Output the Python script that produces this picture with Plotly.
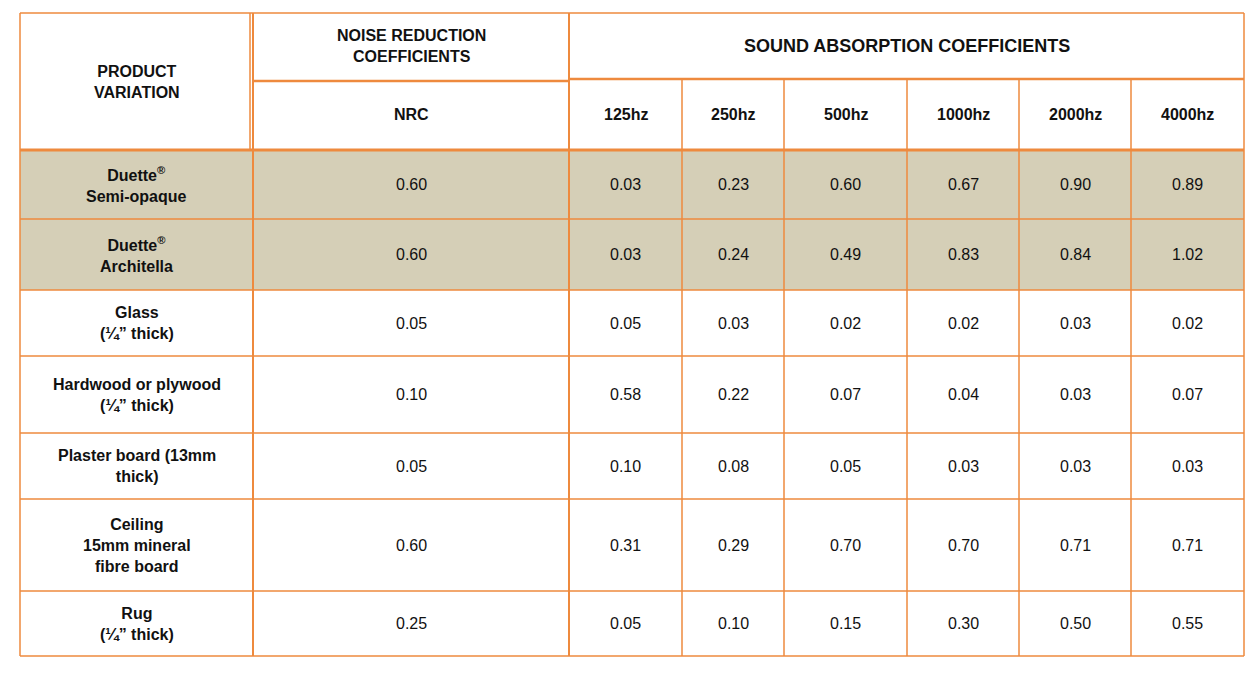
import plotly.graph_objects as go

products = [
    "Duette<sup>®</sup><br>Semi-opaque",
    "Duette<sup>®</sup><br>Architella",
    "Glass<br>(¼” thick)",
    "Hardwood or plywood<br>(¼” thick)",
    "Plaster board (13mm<br>thick)",
    "Ceiling<br>15mm mineral<br>fibre board",
    "Rug<br>(¼” thick)",
]
nrc = ["0.60", "0.60", "0.05", "0.10", "0.05", "0.60", "0.25"]
freqs = ["125hz", "250hz", "500hz", "1000hz", "2000hz", "4000hz"]
sac = [
    ["0.03", "0.23", "0.60", "0.67", "0.90", "0.89"],
    ["0.03", "0.24", "0.49", "0.83", "0.84", "1.02"],
    ["0.05", "0.03", "0.02", "0.02", "0.03", "0.02"],
    ["0.58", "0.22", "0.07", "0.04", "0.03", "0.07"],
    ["0.10", "0.08", "0.05", "0.03", "0.03", "0.03"],
    ["0.31", "0.29", "0.70", "0.70", "0.71", "0.71"],
    ["0.05", "0.10", "0.15", "0.30", "0.50", "0.55"],
]
shaded = [True, True, False, False, False, False, False]

# layout in page pixels
col_x = [20, 253, 569, 682, 784, 907, 1019, 1131, 1244]
row_y = [150, 219, 290, 356, 433, 499, 591, 656]
top, mid = 13, 79
ORANGE = "#EE8A3E"
BEIGE = "#D5CFB7"
FONT = "Liberation Sans"
PAGE_MARGIN = 8  # default body margin of the page

shapes, ann = [], []


def line(x0, y0, x1, y1, w=1.5):
    shapes.append(dict(type="line", x0=x0, y0=y0, x1=x1, y1=y1,
                       line=dict(color=ORANGE, width=w), layer="above"))


def text(x, y, s, bold=False, size=16):
    ann.append(dict(x=x, y=y, text=f"<b>{s}</b>" if bold else s, showarrow=False,
                    font=dict(family=FONT, size=size, color="#111111"),
                    xanchor="center", yanchor="middle"))


for i, sh in enumerate(shaded):
    if sh:
        shapes.append(dict(type="rect", x0=col_x[0], x1=col_x[-1], y0=row_y[i], y1=row_y[i + 1],
                           fillcolor=BEIGE, line=dict(width=0), layer="below"))

# outer and header borders
line(col_x[0], top, col_x[-1], top)
line(col_x[0], top, col_x[0], row_y[-1])
line(col_x[-1], top, col_x[-1], row_y[-1])
line(col_x[2], mid, col_x[-1], mid, 2.5)
line(col_x[1], mid + 2, col_x[2], mid + 2, 2.5)
line(col_x[0], row_y[0], col_x[-1], row_y[0], 3)
line(col_x[1], top, col_x[1], row_y[-1], 2)
line(col_x[1] - 3, top, col_x[1] - 3, row_y[0])
line(col_x[2], top, col_x[2], row_y[-1], 2)
for x in col_x[3:-1]:
    line(x, mid, x, row_y[-1])
for y in row_y[1:]:
    line(col_x[0], y, col_x[-1], y)

# header text
text((col_x[0] + col_x[1]) / 2, (top + row_y[0]) / 2, "PRODUCT<br>VARIATION", True)
text((col_x[1] + col_x[2]) / 2, (top + mid) / 2, "NOISE REDUCTION<br>COEFFICIENTS", True, 16)
text((col_x[2] + col_x[-1]) / 2, (top + mid) / 2, "SOUND ABSORPTION COEFFICIENTS", True, 18)
text((col_x[1] + col_x[2]) / 2, (mid + row_y[0]) / 2, "NRC", True)
for j, f in enumerate(freqs):
    text((col_x[j + 2] + col_x[j + 3]) / 2, (mid + row_y[0]) / 2, f, True)

# body
for i, p in enumerate(products):
    yc = (row_y[i] + row_y[i + 1]) / 2
    text((col_x[0] + col_x[1]) / 2, yc, p, True)
    text((col_x[1] + col_x[2]) / 2, yc, nrc[i])
    for j, v in enumerate(sac[i]):
        text((col_x[j + 2] + col_x[j + 3]) / 2, yc, v)

W, H = 1259 - 2 * PAGE_MARGIN, 680 - 2 * PAGE_MARGIN
fig = go.Figure()
fig.update_layout(
    width=W, height=H, margin=dict(l=0, r=0, t=0, b=0),
    paper_bgcolor="white", plot_bgcolor="white",
    xaxis=dict(range=[PAGE_MARGIN, PAGE_MARGIN + W], visible=False, fixedrange=True),
    yaxis=dict(range=[PAGE_MARGIN + H, PAGE_MARGIN], visible=False, fixedrange=True),
    shapes=shapes, annotations=ann, showlegend=False,
)
fig.write_html("out.html")
